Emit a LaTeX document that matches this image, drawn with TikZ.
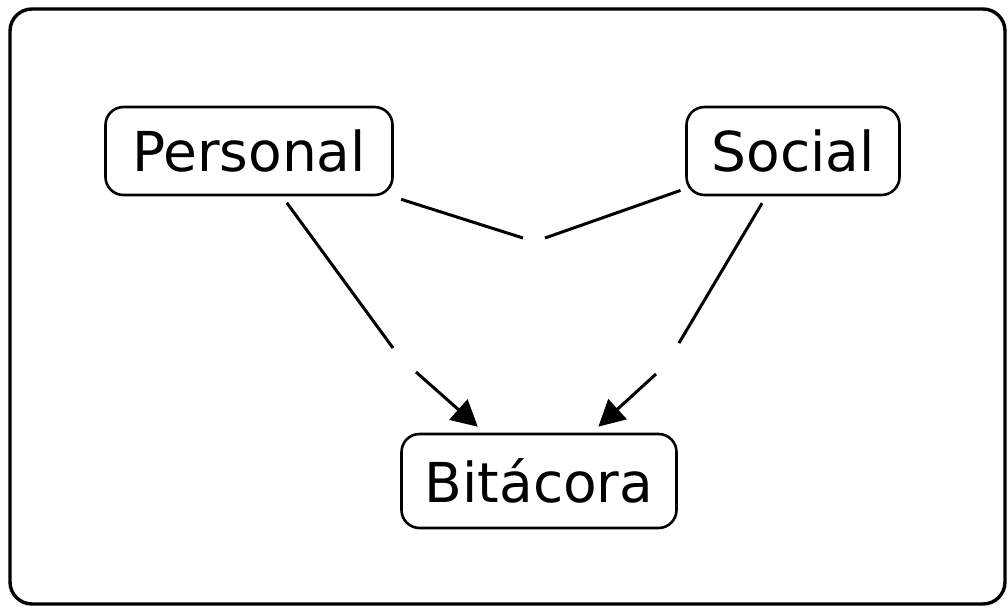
\documentclass[tikz,border=0pt]{standalone}
\usepackage{fontspec}
\setmainfont{DejaVu Sans}
\usepackage{tikz}
\usetikzlibrary{arrows.meta,positioning}

\begin{document}
\begin{tikzpicture}[
  x=1pt, y=-1pt,
  >={Triangle[length=26pt,width=27pt]},
  concept/.style={
    draw=black,
    fill=white,
    rounded corners=18pt,
    line width=2.6pt,
    inner sep=0pt,
    align=center,
    font=\fontsize{55}{60}\selectfont
  },
  link/.style={
    draw=black,
    line width=3pt
  }
]

  % Frame
  \useasboundingbox (0,0) rectangle (1008,607);
  \draw[line width=3.4pt, rounded corners=22pt] (10,9) rectangle (1005,604);

  % Concepts
  \node[concept, minimum width=287pt, minimum height=88pt] (personal) at (249,151) {Personal};
  \node[concept, minimum width=213pt, minimum height=88pt] (social) at (793,151) {Social};
  \node[concept, minimum width=275pt, minimum height=94pt] (bitacora) at (539,481) {Bitácora};

  % Empty linking phrases
  \coordinate (ps1) at (523,238);
  \coordinate (ps2) at (545,238);
  \coordinate (pb1) at (393,348);
  \coordinate (pb2) at (416,372);
  \coordinate (sb1) at (679,343);
  \coordinate (sb2) at (656,374);

  % Personal -- Social
  \draw[link, shorten <=10pt] (personal) -- (ps1);
  \draw[link, shorten >=5pt] (ps2) -- (social);

  % Personal -> Bitacora
  \draw[link, shorten <=8pt] (personal) -- (pb1);
  \draw[link, ->, shorten >=9pt] (pb2) -- (bitacora);

  % Social -> Bitacora
  \draw[link, shorten <=8pt] (social) -- (sb1);
  \draw[link, ->, shorten >=9pt] (sb2) -- (bitacora);

\end{tikzpicture}
\end{document}
